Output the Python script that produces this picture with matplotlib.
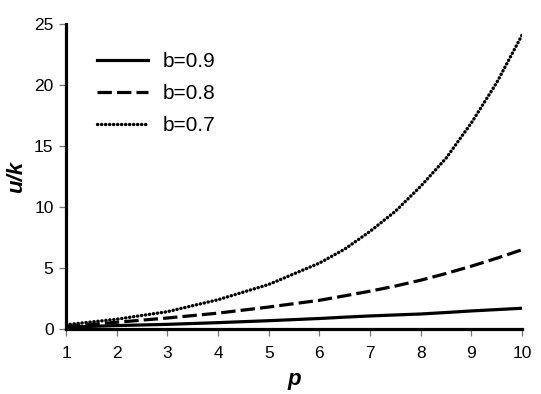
import numpy as np
import matplotlib
matplotlib.use("Agg")
import matplotlib.pyplot as plt

plt.rcParams['font.family'] = ['Liberation Sans', 'DejaVu Sans']

# data
p = [1, 2, 3, 4, 5, 6, 6.5, 7, 7.5, 8, 8.5, 9, 9.5, 10]
b09 = [0.15, 0.28, 0.38, 0.52, 0.68, 0.86, 0.97, 1.07, 1.15, 1.23, 1.35, 1.48, 1.59, 1.7]
b08 = [0.2, 0.55, 0.9, 1.3, 1.8, 2.35, 2.72, 3.1, 3.52, 4.0, 4.55, 5.15, 5.8, 6.5]
b07 = [0.35, 0.8, 1.42, 2.4, 3.65, 5.4, 6.55, 8.0, 9.65, 11.7, 14.0, 16.9, 20.2, 24.1]

fig = plt.figure(figsize=(5.41, 3.94), dpi=100)
ax = fig.add_axes([0.122, 0.165, 0.843, 0.774])

ax.plot(p, b09, color='black', lw=2.3, label='b=0.9')
ax.plot(p, b08, color='black', lw=2.3, dashes=(4.5, 1.6), label='b=0.8')
ax.plot(p, b07, color='black', lw=2.4, linestyle=(0, (0.1, 1.1)),
        dash_capstyle='round', label='b=0.7')

ax.set_xlim(1, 10)
ax.set_ylim(0, 25)
ax.set_xticks(range(1, 11))
ax.set_yticks([0, 5, 10, 15, 20, 25])

for s in ['top', 'right']:
    ax.spines[s].set_visible(False)
for s in ['left', 'bottom']:
    ax.spines[s].set_linewidth(2.3)
ax.tick_params(direction='out', length=5, width=0.9, color='#777777',
               labelsize=12.5)
ax.tick_params(axis='x', pad=7)
ax.tick_params(axis='y', pad=4)

ax.set_xlabel('p', fontsize=16, fontweight='bold', fontstyle='italic', labelpad=6)
ax.set_ylabel('u/k', fontsize=16, fontweight='bold', fontstyle='italic', labelpad=5)

leg = ax.legend(loc='upper left', bbox_to_anchor=(0.068, 0.907), frameon=False,
                borderaxespad=0, borderpad=0,
                fontsize=15, handlelength=2.45, handletextpad=0.7, labelspacing=0.62)

fig.savefig('out.png', dpi=100)
